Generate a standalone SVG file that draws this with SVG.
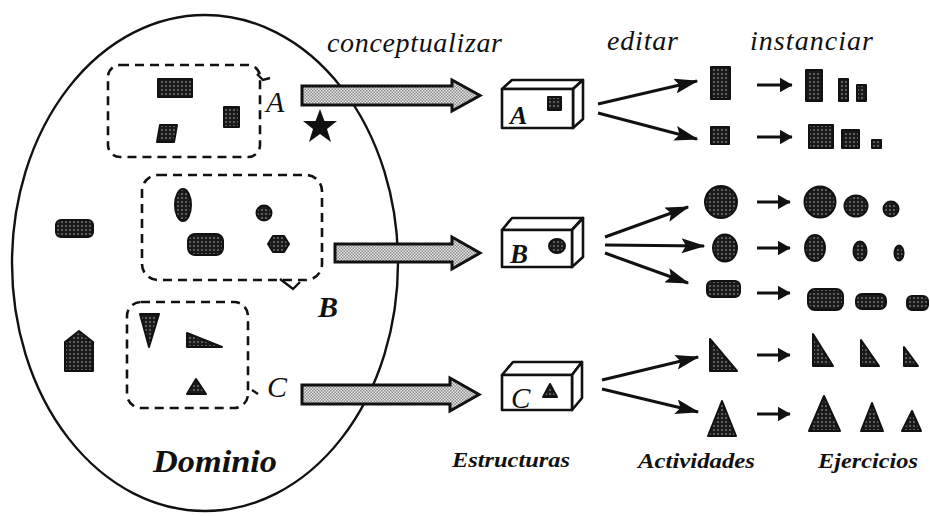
<svg xmlns="http://www.w3.org/2000/svg" width="930" height="516" viewBox="0 0 930 516">
<defs>
<pattern id="dots" width="4" height="4" patternUnits="userSpaceOnUse"><rect width="4" height="4" fill="#1a1a1a"/><circle cx="2" cy="2" r="0.8" fill="#b0b0b0"/></pattern>
<pattern id="chk" width="3" height="3" patternUnits="userSpaceOnUse"><rect width="3" height="3" fill="#e6e6e6"/><rect width="1.5" height="1.5" fill="#8c8c8c"/><rect x="1.5" y="1.5" width="1.5" height="1.5" fill="#8c8c8c"/></pattern>
<marker id="ah" markerWidth="8" markerHeight="5" refX="7.5" refY="2.5" orient="auto" markerUnits="strokeWidth"><path d="M0,0 L8,2.5 L0,5 L1.5,2.5 z" fill="#111"/></marker>
<marker id="sm" markerWidth="4.2" markerHeight="4.8" refX="4" refY="2.4" orient="auto" markerUnits="strokeWidth"><path d="M0,0 L4.2,2.4 L0,4.8 z" fill="#111"/></marker>
</defs>
<style>
.sh{fill:url(#dots);stroke:#111;stroke-width:2;stroke-linejoin:round}
.dash{fill:none;stroke:#111;stroke-width:2.6;stroke-dasharray:9 6}
.big{fill:url(#chk);stroke:#111;stroke-width:3;stroke-linejoin:miter}
.box{fill:#fff;stroke:#111;stroke-width:2.6;stroke-linejoin:round}
.ln{stroke:#111;stroke-width:3;fill:none;marker-end:url(#ah)}
.sl{stroke:#111;stroke-width:3;fill:none;marker-end:url(#sm)}
.it{font-family:"Liberation Serif","Times New Roman",serif;font-style:italic;fill:#111}
.bi{font-family:"Liberation Serif","Times New Roman",serif;font-style:italic;font-weight:bold;fill:#111}
</style>
<rect width="930" height="516" fill="#fff"/>

<g id="dominio">
<ellipse cx="205" cy="263" rx="193" ry="248" fill="none" stroke="#111" stroke-width="2.4"/>
<text class="bi" x="153" y="472" font-size="31" textLength="124" lengthAdjust="spacingAndGlyphs">Dominio</text>
<rect class="sh" x="56" y="220" width="37" height="17" rx="5"/>
<polygon class="sh" points="65,342 79,331 93,342 93,371 65,371"/>
</g>

<g id="grupoA">
<rect class="dash" x="108" y="65" width="152" height="92" rx="12"/>
<path d="M257,74 L263,80 L270,78" fill="none" stroke="#111" stroke-width="2.4"/>
<rect class="sh" x="158" y="79" width="34" height="18"/>
<rect class="sh" x="224" y="107" width="15" height="20"/>
<polygon class="sh" points="160,125 177,125 174,142 157,142"/>
<text class="it" x="266" y="112" font-size="30">A</text>
<polygon points="320,109 324.5,121 337,121 327,129 331,142 320,134 309,142 313,129 303,121 315.5,121" fill="#111"/>
</g>

<g id="grupoB">
<rect class="dash" x="142" y="175" width="180" height="105" rx="16"/>
<path d="M280,279 L293,289 L300,282" fill="none" stroke="#111" stroke-width="2.4"/>
<ellipse class="sh" cx="183" cy="205" rx="8" ry="16"/>
<circle class="sh" cx="264" cy="213" r="7.5"/>
<rect class="sh" x="188" y="234" width="35" height="21" rx="7"/>
<polygon class="sh" points="273,236 284,236 289,244 284,252 273,252 268,244"/>
<text class="bi" x="318" y="317" font-size="30">B</text>
</g>

<g id="grupoC">
<rect class="dash" x="127" y="302" width="121" height="106" rx="14"/>
<path d="M252,390 L258,394" fill="none" stroke="#111" stroke-width="2.4"/>
<polygon class="sh" points="140,314 159,314 149,347"/>
<polygon class="sh" points="187,333 187,347 222,347"/>
<polygon class="sh" points="196,379 206,394 187,394"/>
<text class="it" x="267" y="397" font-size="30">C</text>
</g>

<g id="conectores">
<polygon class="big" points="302,86 452,86 452,80 480,95.5 452,111 452,105 302,105"/>
<polygon class="big" points="335,244 452,244 452,237 480,253 452,269 452,262 335,262"/>
<polygon class="big" points="302,385 450,385 450,378 479,394.5 450,411 450,404 302,404"/>
<line class="ln" x1="598" y1="104" x2="697" y2="81"/>
<line class="ln" x1="598" y1="113" x2="697" y2="139"/>
<line class="ln" x1="605" y1="237" x2="688" y2="207"/>
<line class="ln" x1="605" y1="245" x2="704" y2="246"/>
<line class="ln" x1="605" y1="253" x2="688" y2="283"/>
<line class="ln" x1="602" y1="380" x2="698" y2="357"/>
<line class="ln" x1="602" y1="389" x2="698" y2="412"/>
<line class="sl" x1="757" y1="85" x2="792" y2="85"/>
<line class="sl" x1="757" y1="137" x2="792" y2="137"/>
<line class="sl" x1="757" y1="202" x2="790" y2="202"/>
<line class="sl" x1="757" y1="248" x2="790" y2="248"/>
<line class="sl" x1="757" y1="293" x2="790" y2="293"/>
<line class="sl" x1="757" y1="355" x2="790" y2="355"/>
<line class="sl" x1="757" y1="414" x2="790" y2="414"/>
</g>

<g id="etiquetas">
<text class="it" x="327" y="52" font-size="28" textLength="175">conceptualizar</text>
<text class="it" x="607" y="50" font-size="28" textLength="71">editar</text>
<text class="it" x="750" y="50" font-size="28" textLength="123">instanciar</text>
<text class="bi" x="452" y="467" font-size="22" textLength="118" lengthAdjust="spacingAndGlyphs">Estructuras</text>
<text class="bi" x="638" y="468" font-size="22" textLength="117" lengthAdjust="spacingAndGlyphs">Actividades</text>
<text class="bi" x="818" y="468" font-size="22" textLength="100" lengthAdjust="spacingAndGlyphs">Ejercicios</text>
</g>

<g id="estructuraA">
<polygon class="box" points="502,89 512,80 583,80 573,89"/>
<polygon class="box" points="573,89 583,80 583,119 573,128"/>
<rect class="box" x="502" y="89" width="71" height="39"/>
<text class="bi" x="510" y="124" font-size="26">A</text>
<rect class="sh" x="548" y="97" width="13" height="13"/>
</g>

<g id="estructuraB">
<polygon class="box" points="502,230 512,218 583,218 572,230"/>
<polygon class="box" points="572,230 583,218 583,257 572,267"/>
<rect class="box" x="502" y="230" width="70" height="37"/>
<text class="bi" x="510" y="263" font-size="27">B</text>
<ellipse class="sh" cx="557" cy="246" rx="8" ry="7"/>
</g>

<g id="estructuraC">
<polygon class="box" points="502,375 513,362 582,362 572,375"/>
<polygon class="box" points="572,375 582,362 582,398 572,410"/>
<rect class="box" x="502" y="375" width="70" height="35"/>
<text class="it" x="511" y="408" font-size="29">C</text>
<polygon class="sh" points="550,384 557,397 543,397"/>
</g>

<g id="actividades">
<rect class="sh" x="711" y="67" width="19" height="32"/>
<rect class="sh" x="711" y="127" width="18" height="17"/>
<circle class="sh" cx="721" cy="202" r="16"/>
<ellipse class="sh" cx="725" cy="248" rx="12" ry="13.5"/>
<rect class="sh" x="707" y="281" width="33" height="16" rx="5"/>
<polygon class="sh" points="710,339 737,371 710,371"/>
<polygon class="sh" points="722,401 736,436 708,436"/>
</g>

<g id="ejercicios">
<rect class="sh" x="806" y="70" width="16" height="31"/>
<rect class="sh" x="839" y="79" width="9" height="22"/>
<rect class="sh" x="857" y="85" width="9" height="16"/>
<rect class="sh" x="809" y="125" width="24" height="23"/>
<rect class="sh" x="842" y="130" width="17" height="18"/>
<rect class="sh" x="872" y="140" width="9" height="8"/>
<circle class="sh" cx="820" cy="202" r="15.5"/>
<ellipse class="sh" cx="856" cy="206" rx="11.5" ry="10.5"/>
<circle class="sh" cx="891" cy="209" r="7.5"/>
<ellipse class="sh" cx="815" cy="248" rx="10" ry="13"/>
<ellipse class="sh" cx="860" cy="251" rx="6.5" ry="9.5"/>
<ellipse class="sh" cx="899" cy="253" rx="4.5" ry="7.5"/>
<rect class="sh" x="808" y="289" width="35" height="21" rx="7"/>
<rect class="sh" x="856" y="294" width="30" height="15" rx="6"/>
<rect class="sh" x="907" y="296" width="21" height="14" rx="5"/>
<polygon class="sh" points="813,334 833,366 813,366"/>
<polygon class="sh" points="861,340 879,366 861,366"/>
<polygon class="sh" points="904,347 918,366 904,366"/>
<polygon class="sh" points="824,396 840,431 809,431"/>
<polygon class="sh" points="872,403 883,431 861,431"/>
<polygon class="sh" points="912,411 921,431 902,431"/>
</g>
</svg>
